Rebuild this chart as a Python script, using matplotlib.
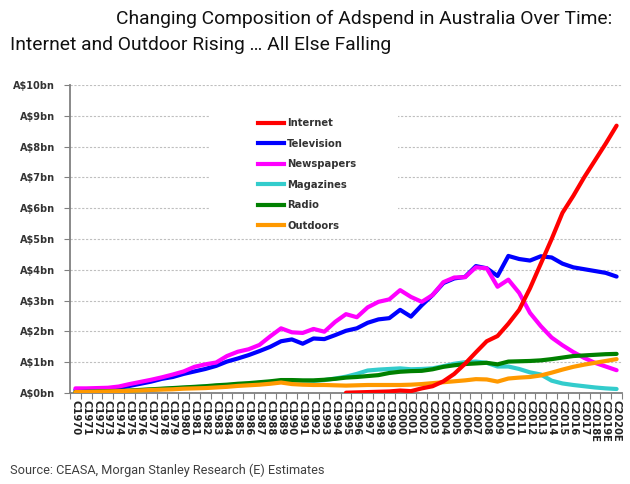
import numpy as np
import matplotlib
matplotlib.use("Agg")
import matplotlib.pyplot as plt
from matplotlib.patches import Rectangle
from matplotlib.lines import Line2D

years = list(range(1970, 2021))
tick_labels = [f"C{y}" + ("E" if y >= 2018 else "") for y in years]
y_ticks = list(range(0, 11))
y_tick_labels = [f"A${v}bn" for v in y_ticks]

N = None
internet = [N] * 25 + [0.01, 0.02, 0.03, 0.04, 0.05, 0.08, 0.06, 0.15, 0.22, 0.38,
                       0.62, 0.95, 1.32, 1.68, 1.85, 2.25, 2.70, 3.40, 4.20, 5.00,
                       5.85, 6.40, 7.00, 7.55, 8.10, 8.68]
television = [0.10, 0.10, 0.11, 0.13, 0.16, 0.23, 0.30, 0.37, 0.46, 0.52,
              0.62, 0.70, 0.78, 0.88, 1.02, 1.12, 1.23, 1.36, 1.50, 1.68,
              1.74, 1.60, 1.77, 1.75, 1.88, 2.02, 2.10, 2.28, 2.39, 2.43,
              2.70, 2.48, 2.85, 3.18, 3.57, 3.72, 3.77, 4.12, 4.05, 3.80,
              4.45, 4.35, 4.30, 4.44, 4.40, 4.20, 4.08, 4.02, 3.96, 3.90, 3.78]
newspapers = [0.15, 0.15, 0.16, 0.17, 0.21, 0.29, 0.36, 0.43, 0.51, 0.60,
              0.70, 0.85, 0.93, 0.99, 1.20, 1.34, 1.42, 1.56, 1.84, 2.10,
              1.97, 1.95, 2.08, 1.99, 2.31, 2.56, 2.46, 2.78, 2.96, 3.04,
              3.34, 3.12, 2.96, 3.18, 3.60, 3.75, 3.76, 4.08, 4.05, 3.45,
              3.68, 3.25, 2.60, 2.17, 1.80, 1.55, 1.33, 1.14, 0.98, 0.86, 0.74]
magazines = [0.02, 0.03, 0.04, 0.05, 0.06, 0.07, 0.09, 0.11, 0.13, 0.15,
             0.17, 0.19, 0.21, 0.23, 0.25, 0.28, 0.30, 0.33, 0.36, 0.40,
             0.40, 0.39, 0.39, 0.42, 0.47, 0.53, 0.62, 0.73, 0.76, 0.78,
             0.80, 0.77, 0.78, 0.80, 0.87, 0.95, 1.00, 1.02, 0.98, 0.86,
             0.86, 0.78, 0.67, 0.60, 0.40, 0.31, 0.26, 0.22, 0.18, 0.15, 0.13]
radio = [0.03, 0.04, 0.05, 0.06, 0.07, 0.08, 0.10, 0.12, 0.14, 0.16,
         0.18, 0.20, 0.22, 0.25, 0.27, 0.30, 0.32, 0.35, 0.38, 0.42,
         0.42, 0.41, 0.41, 0.43, 0.46, 0.50, 0.52, 0.55, 0.58, 0.65,
         0.69, 0.71, 0.72, 0.77, 0.85, 0.90, 0.94, 0.96, 0.98, 0.93,
         1.02, 1.03, 1.04, 1.06, 1.10, 1.15, 1.20, 1.22, 1.24, 1.26, 1.27]
outdoors = [0.03, 0.03, 0.04, 0.05, 0.06, 0.07, 0.08, 0.10, 0.11, 0.12,
            0.14, 0.15, 0.16, 0.18, 0.20, 0.23, 0.25, 0.27, 0.30, 0.34,
            0.29, 0.27, 0.26, 0.26, 0.25, 0.24, 0.25, 0.26, 0.26, 0.26,
            0.26, 0.27, 0.29, 0.32, 0.35, 0.38, 0.41, 0.45, 0.44, 0.37,
            0.47, 0.50, 0.52, 0.57, 0.66, 0.76, 0.85, 0.92, 0.98, 1.04, 1.10]

series_names = ["Internet", "Television", "Newspapers", "Magazines", "Radio", "Outdoors"]
series_values = [internet, television, newspapers, magazines, radio, outdoors]
series_colors = ["#FF0000", "#0000FF", "#FF00FF", "#33CCCC", "#008000", "#FF9900"]
draw_order = [1, 2, 3, 4, 5, 0]

fig = plt.figure(figsize=(6.3, 4.84), dpi=100)
ax = fig.add_axes([70 / 630, (484 - 393) / 484, (622 - 70) / 630, (393 - 85) / 484])

x = np.arange(len(years))
LW = 3.0
for k in draw_order:
    vals = np.array([np.nan if v is None else v for v in series_values[k]], dtype=float)
    ax.plot(x, vals, color=series_colors[k], lw=LW, solid_joinstyle="round",
            solid_capstyle="round", zorder=3)

ax.set_xlim(-0.5, len(years) - 0.5)
ax.set_ylim(0, 10)

ax.set_yticks(y_ticks)
ax.set_yticklabels(y_tick_labels, fontsize=7, fontweight="bold", color="#333333")
ax.set_xticks(np.arange(-0.5, len(years)), labels=[])
ax.set_xticks(x, minor=True)
ax.set_xticklabels(tick_labels, minor=True, rotation=270, fontsize=7.2,
                   fontweight="bold", color="#222222", va="top", ha="center")
ax.tick_params(axis="x", which="minor", length=0, pad=5)
ax.tick_params(axis="x", which="major", length=4, width=0.8, color="#808080", direction="out")
ax.tick_params(axis="y", length=4, width=0.8, color="#808080", direction="out", pad=7)

for s in ["top", "right"]:
    ax.spines[s].set_visible(False)
for s in ["left", "bottom"]:
    ax.spines[s].set_color("#808080")
    ax.spines[s].set_linewidth(1.3)

ax.yaxis.grid(True, color="#BFBFBF", linestyle=(0, (2, 1.5)), linewidth=0.8)
ax.set_axisbelow(True)

# legend background box
ax.add_patch(Rectangle(((210 - 70) / 552, (393 - 232) / 308), 188 / 552, (232 - 98) / 308,
                       transform=ax.transAxes, facecolor="white", edgecolor="none", zorder=1.5))

handles = [Line2D([0], [0], color=c, lw=LW) for c in series_colors]
leg = fig.legend(handles, series_names, loc="upper left",
                 bbox_to_anchor=(258 / 630, 1 - 118.5 / 484), frameon=False,
                 prop={"size": 7.2, "weight": "bold"}, handlelength=2.6,
                 handletextpad=0.3, labelspacing=1.05, borderpad=0, borderaxespad=0)
for t in leg.get_texts():
    t.set_color("#333333")

fig.text(612 / 630, 1 - 19 / 484, "Changing Composition of Adspend in Australia Over Time:",
         ha="right", va="center", fontsize=13.85, family="Roboto", color="#111111")
fig.text(10 / 630, 1 - 45 / 484, "Internet and Outdoor Rising \u2026 All Else Falling",
         ha="left", va="center", fontsize=13.85, family="Roboto", color="#111111")
fig.text(10 / 630, 1 - 470 / 484, "Source: CEASA, Morgan Stanley Research (E) Estimates",
         ha="left", va="center", fontsize=9.2, family="Roboto", color="#404040")

fig.savefig("out.png", dpi=100)
